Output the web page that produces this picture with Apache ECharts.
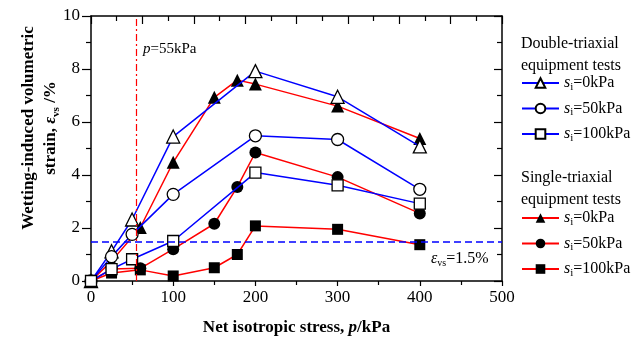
<!DOCTYPE html>
<html>
<head>
<meta charset="utf-8">
<script src="https://cdn.jsdelivr.net/npm/echarts@6/dist/echarts.min.js"></script>
<style>
html,body{margin:0;padding:0;background:#fff;}
#main{width:644px;height:338px;}
</style>
</head>
<body>
<div id="main"></div>
<script>
// net isotropic stress (kPa) for each test group
var pDouble = [0, 25, 50, 100, 200, 300, 400];
var pSingle0 = [0, 25, 60, 100, 150, 178, 200, 300, 400];
var pSingle = [0, 25, 60, 100, 150, 178, 200, 300, 400];

// wetting-induced volumetric strain (%)
var dbl0 = [0, 1.12, 2.32, 5.45, 7.92, 6.95, 5.08];
var dbl50 = [0, 0.92, 1.76, 3.27, 5.48, 5.34, 3.46];
var dbl100 = [0, 0.45, 0.82, 1.51, 4.09, 3.61, 2.92];
var sgl0 = [0, 0.75, 2.02, 4.48, 6.93, 7.58, 7.43, 6.6, 5.38];
var sgl50 = [0, 0.45, 0.48, 1.2, 2.16, 3.55, 4.85, 3.92, 2.55];
var sgl100 = [0, 0.3, 0.42, 0.19, 0.5, 1.0, 2.08, 1.95, 1.37];

var pLine = 55;
var epsLine = 1.5;

var F = 'Liberation Serif';
var BLUE = '#0000ff';
var RED = '#ff0000';

function pairs(xs, ys) {
  var out = [];
  for (var i = 0; i < xs.length; i++) out.push([xs[i], ys[i]]);
  return out;
}

var legendNames = {
  d0: '0kPa', d50: '50kPa', d100: '100kPa',
  s0: '0kPa', s50: '50kPa', s100: '100kPa'
};
var legendRich = {
  i: {fontFamily: F, fontStyle: 'italic', fontSize: 16, color: '#000'},
  sub: {fontFamily: F, fontSize: 11, color: '#000', verticalAlign: 'bottom', padding: [8, 0, 0, 0]},
  n: {fontFamily: F, fontSize: 16, color: '#000'}
};

function mkSeries(name, xs, ys, color, symbol, open) {
  return {
    name: name,
    type: 'line',
    data: pairs(xs, ys),
    symbol: symbol,
    symbolSize: symbol == 'triangle' ? 13 : (symbol == 'rect' ? 11 : 12),
    lineStyle: {color: color, width: 1.5},
    itemStyle: open
      ? {color: '#fff', borderColor: '#000', borderWidth: 1.3}
      : {color: '#000', borderColor: '#000', borderWidth: 0},
    z: open ? 3 : 2,
    animation: false
  };
}

var series = [
  mkSeries('d0', pDouble, dbl0, BLUE, 'triangle', true),
  mkSeries('d50', pDouble, dbl50, BLUE, 'circle', true),
  mkSeries('d100', pDouble, dbl100, BLUE, 'rect', true),
  mkSeries('s0', pSingle0, sgl0, RED, 'triangle', false),
  mkSeries('s50', pSingle, sgl50, RED, 'circle', false),
  mkSeries('s100', pSingle, sgl100, RED, 'rect', false)
];
series.push({
  type: 'line',
  data: [],
  markLine: {
    silent: true,
    symbol: 'none',
    label: {show: false},
    animation: false,
    data: [
      {xAxis: pLine, lineStyle: {color: RED, width: 1.2, type: [7, 3, 2, 3]}},
      {yAxis: epsLine, lineStyle: {color: BLUE, width: 1.5, type: [7, 4]}}
    ]
  }
});

function ticks(inside, majorLen, minorLen) {
  return {
    axisLine: {show: true, onZero: false, lineStyle: {color: '#000', width: 1.5}},
    axisTick: {show: true, inside: inside, length: majorLen, lineStyle: {color: '#000', width: 1.2}},
    minorTick: {show: true, splitNumber: 2, length: minorLen, lineStyle: {color: '#000', width: 1.2}},
    splitLine: {show: false}
  };
}

var chartDom = document.getElementById('main');
var myChart = echarts.init(chartDom);
var option = {
  backgroundColor: '#fff',
  animation: false,
  grid: {left: 91, right: 142, top: 16, bottom: 57, outerBoundsMode: 'none', containLabel: false},
  xAxis: [
    Object.assign({
      type: 'value', min: 0, max: 500, interval: 100,
      axisLabel: {fontFamily: F, fontSize: 17, color: '#000', margin: 8},
      name: 'Net isotropic stress, {it|p}/kPa',
      nameLocation: 'middle', nameGap: 38,
      nameTextStyle: {fontFamily: F, fontSize: 17, fontWeight: 'bold', color: '#000',
        rich: {it: {fontFamily: F, fontSize: 17, fontWeight: 'bold', fontStyle: 'italic', color: '#000'}}}
    }, ticks(false, 5, 4)),
    Object.assign({
      type: 'value', min: 0, max: 8, interval: 1, position: 'top',
      axisLabel: {show: false}
    }, ticks(true, 8, 5))
  ],
  yAxis: [
    Object.assign({
      type: 'value', min: 0, max: 10, interval: 2,
      axisLabel: {fontFamily: F, fontSize: 17, color: '#000', margin: 11}
    }, ticks(false, 9, 5)),
    Object.assign({
      type: 'value', min: 0, max: 10, interval: 2, position: 'right',
      axisLabel: {show: false}
    }, ticks(true, 8, 5))
  ],
  legend: [
    {
      data: ['d0', 'd50', 'd100'],
      orient: 'vertical', left: 521, top: 75, padding: 0,
      itemWidth: 37, itemHeight: 12, itemGap: 8,
      formatter: function (n) { return '{i|s}{sub|i}{n|=' + legendNames[n] + '}'; },
      textStyle: {rich: legendRich}
    },
    {
      data: ['s0', 's50', 's100'],
      orient: 'vertical', left: 521, top: 210, padding: 0,
      itemWidth: 37, itemHeight: 12, itemGap: 8,
      formatter: function (n) { return '{i|s}{sub|i}{n|=' + legendNames[n] + '}'; },
      textStyle: {rich: legendRich}
    }
  ],
  graphic: [
    {type: 'text', x: 40, y: 128, rotation: Math.PI / 2,
      style: {text: 'Wetting-induced volumetric\nstrain, {it|ε}{sub|vs} /%', fontFamily: F, fontSize: 17,
        fontWeight: 'bold', fill: '#000', lineHeight: 22, align: 'center', verticalAlign: 'middle',
        rich: {
          it: {fontFamily: F, fontSize: 17, fontWeight: 'bold', fontStyle: 'italic', fill: '#000', lineHeight: 22},
          sub: {fontFamily: F, fontSize: 11, fontWeight: 'bold', fill: '#000', verticalAlign: 'bottom', lineHeight: 22, padding: [9, 0, 0, 0]}
        }}},
    {type: 'text', left: 521, top: 33,
      style: {text: 'Double-triaxial\nequipment tests', fontFamily: F, fontSize: 16, lineHeight: 22, fill: '#000'}},
    {type: 'text', left: 521, top: 167,
      style: {text: 'Single-triaxial\nequipment tests', fontFamily: F, fontSize: 16, lineHeight: 22, fill: '#000'}},
    {type: 'text', left: 143, top: 42,
      style: {text: '{i|p}=55kPa', fontFamily: F, fontSize: 15, fill: '#000',
        rich: {i: {fontFamily: F, fontStyle: 'italic', fontSize: 15, fill: '#000'}}}},
    {type: 'text', left: 431, top: 251,
      style: {text: '{i|ε}{sub|vs}=1.5%', fontFamily: F, fontSize: 16, fill: '#000',
        rich: {
          i: {fontFamily: F, fontStyle: 'italic', fontSize: 16, fill: '#000'},
          sub: {fontFamily: F, fontSize: 10, fill: '#000', verticalAlign: 'bottom', padding: [8, 0, 0, 0]}
        }}}
  ],
  series: series
};
myChart.setOption(option);
</script>
</body>
</html>
